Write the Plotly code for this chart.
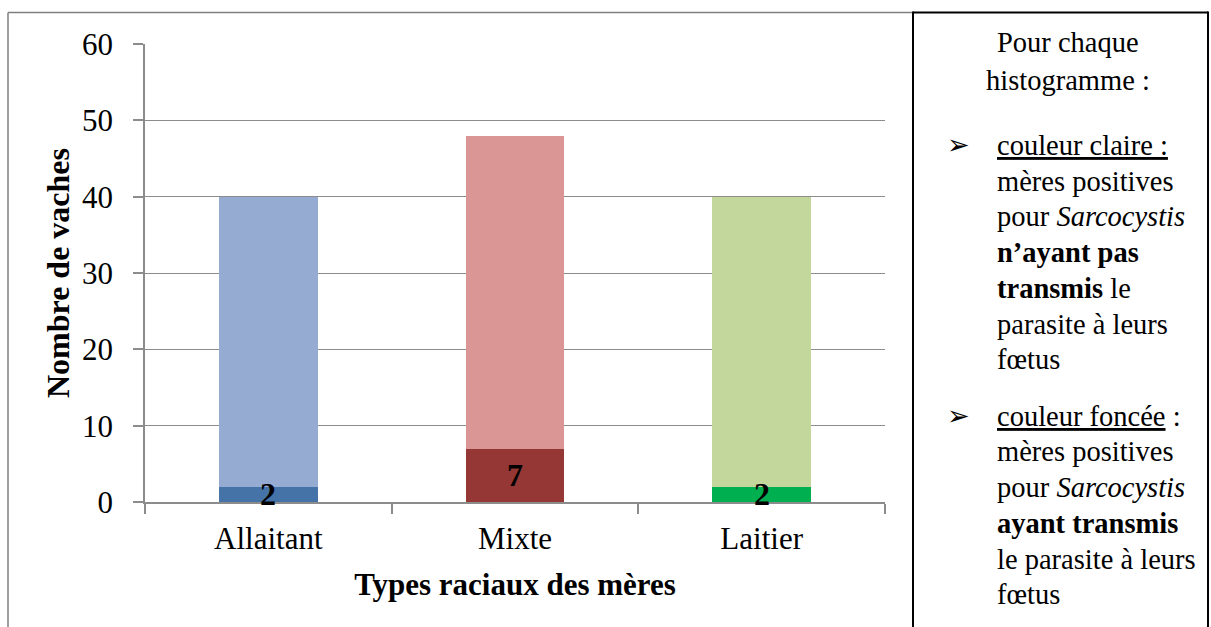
import plotly.graph_objects as go

# Données : vaches positives pour Sarcocystis selon le type racial des mères
types_raciaux = ["Allaitant", "Mixte", "Laitier"]
ayant_transmis = [2, 7, 2]
n_ayant_pas_transmis = [38, 41, 38]
y_ticks = [0, 10, 20, 30, 40, 50, 60]

couleurs_foncees = ["#4572A7", "#953735", "#00B050"]
couleurs_claires = ["#95ABD2", "#D99694", "#C3D69B"]

SERIF = "Liberation Serif, Times New Roman, DejaVu Serif, serif"
GRIS = "#8C8C8C"

fig = go.Figure()
fig.add_trace(go.Bar(
    x=types_raciaux, y=ayant_transmis,
    marker=dict(color=couleurs_foncees, line=dict(width=0)),
    width=0.4, showlegend=False, hoverinfo="x+y",
))
fig.add_trace(go.Bar(
    x=types_raciaux, y=n_ayant_pas_transmis,
    marker=dict(color=couleurs_claires, line=dict(width=0)),
    width=0.4, showlegend=False, hoverinfo="x+y",
))

# Étiquettes des segments foncés
for cat, val in zip(types_raciaux, ayant_transmis):
    fig.add_annotation(
        x=cat, y=val / 2, text=f"<b>{val}</b>", showarrow=False,
        font=dict(family=SERIF, size=32, color="black"),
        xanchor="center", yanchor="middle",
    )

# Cadre : bord gauche et haut gris, panneau de légende encadré de noir
plot_l, plot_r, plot_t, plot_b = 145, 885, 43.5, 502
W, H = 1211, 627
pw, ph = plot_r - plot_l, plot_b - plot_t


def px(x):
    return (x - plot_l) / pw


def py(y):
    return (plot_b - y) / ph


fig.add_shape(type="line", xref="paper", yref="paper",
              x0=px(8), x1=px(8), y0=py(12), y1=py(640),
              line=dict(color="#7F7F7F", width=1.5))
fig.add_shape(type="line", xref="paper", yref="paper",
              x0=px(8), x1=px(913), y0=py(12), y1=py(12),
              line=dict(color="#7F7F7F", width=1.5))
fig.add_shape(type="line", xref="paper", yref="paper",
              x0=px(913), x1=px(1208), y0=py(12), y1=py(12),
              line=dict(color="black", width=2))
fig.add_shape(type="line", xref="paper", yref="paper",
              x0=px(913), x1=px(913), y0=py(11), y1=py(640),
              line=dict(color="black", width=2))
fig.add_shape(type="line", xref="paper", yref="paper",
              x0=px(1208), x1=px(1208), y0=py(11), y1=py(640),
              line=dict(color="black", width=2))

# Texte explicatif du panneau de droite, une ligne à la fois
txt_font = dict(family=SERIF, size=28.5, color="black")
entete = [("Pour chaque", 42), ("histogramme :", 80)]
for ligne, yc in entete:
    fig.add_annotation(
        xref="paper", yref="paper", x=px(1068), y=py(yc), text=ligne,
        showarrow=False, xanchor="center", yanchor="middle", font=txt_font,
    )

bloc1 = ["<u>couleur claire :</u>", "mères positives",
         "pour <i>Sarcocystis</i>", "<b>n’ayant pas</b>",
         "<b>transmis</b> le", "parasite à leurs", "fœtus"]
bloc2 = ["<u>couleur foncée</u> :", "mères positives",
         "pour <i>Sarcocystis</i>", "<b>ayant transmis</b>",
         "le parasite à leurs", "fœtus"]
for lignes, y0 in ((bloc1, 145), (bloc2, 416)):
    for i, ligne in enumerate(lignes):
        fig.add_annotation(
            xref="paper", yref="paper", x=px(995), y=py(y0 + i * 35.8),
            text=ligne, showarrow=False, xanchor="left", yanchor="middle",
            font=txt_font,
        )
    fig.add_annotation(
        xref="paper", yref="paper", x=px(958), y=py(y0 - 1),
        text="➢", showarrow=False, xanchor="center", yanchor="middle",
        font=dict(family="DejaVu Sans", size=27, color="black"),
    )

fig.update_layout(
    width=W, height=H,
    margin=dict(l=plot_l, r=W - plot_r, t=plot_t, b=H - plot_b, pad=0),
    barmode="stack", bargap=0.6,
    plot_bgcolor="white", paper_bgcolor="white",
    font=dict(family=SERIF, color="black"),
)
fig.update_xaxes(
    type="category", tickson="boundaries",
    ticks="outside", ticklen=10, tickcolor=GRIS, tickwidth=1.5,
    showline=True, linecolor=GRIS, linewidth=1.5,
    showgrid=False, ticklabelstandoff=8,
    tickfont=dict(family=SERIF, size=31, color="black"),
    title=dict(text="<b>Types raciaux des mères</b>",
               font=dict(family=SERIF, size=31, color="black"), standoff=18),
)
fig.update_yaxes(
    range=[0, 60], tickvals=y_ticks,
    ticks="outside", ticklen=10, tickcolor=GRIS, tickwidth=1.5,
    showline=True, linecolor=GRIS, linewidth=1.5,
    showgrid=True, gridcolor=GRIS, gridwidth=1.2,
    zeroline=False, ticklabelstandoff=14,
    tickfont=dict(family=SERIF, size=31, color="black"),
    title=dict(text="<b>Nombre de vaches</b>",
               font=dict(family=SERIF, size=32, color="black"), standoff=3),
)

fig.write_html("out.html")
